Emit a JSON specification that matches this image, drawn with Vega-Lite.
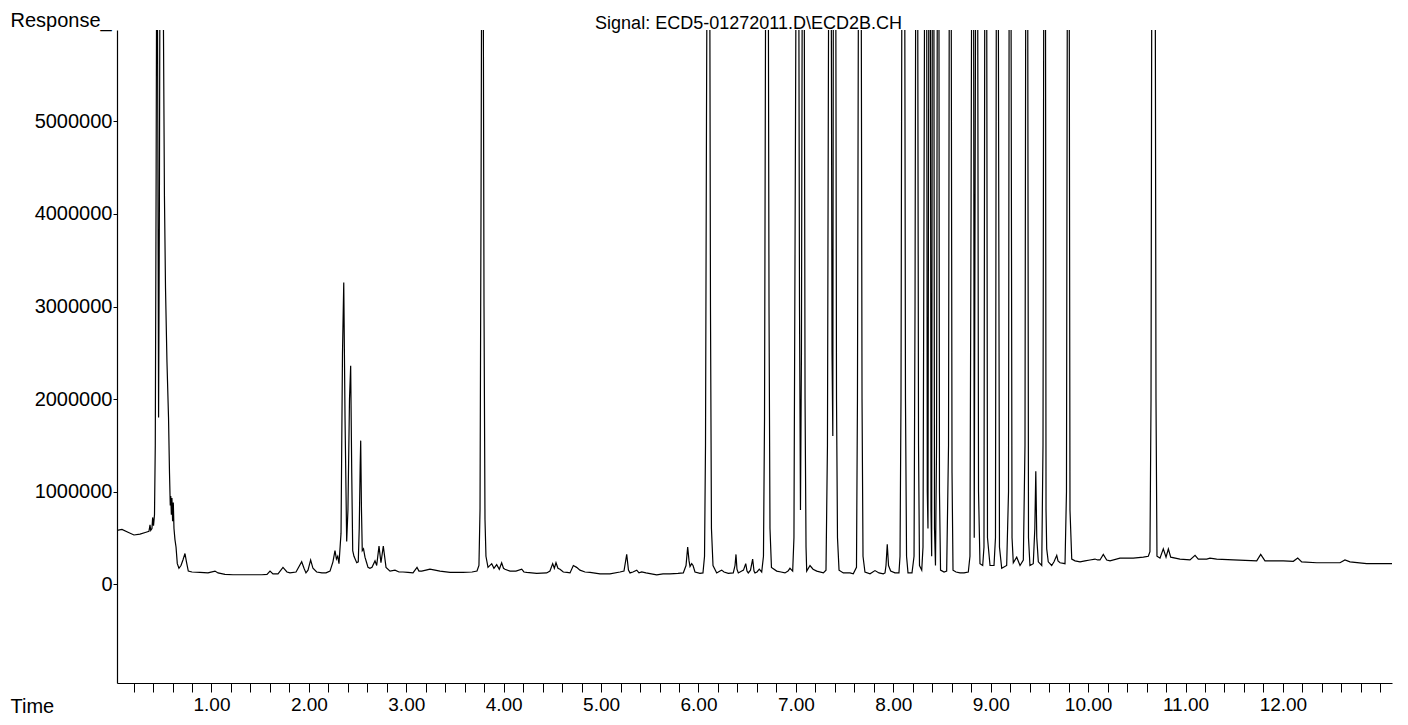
{
  "$schema": "https://vega.github.io/schema/vega-lite/v6.json",
  "width": 1275,
  "height": 653,
  "autosize": {"type": "none"},
  "padding": {"left": 117, "top": 30, "right": 16, "bottom": 42},
  "background": "white",
  "title": {
    "text": "Signal: ECD5-01272011.D\\ECD2B.CH",
    "anchor": "middle",
    "frame": "group",
    "baseline": "alphabetic",
    "offset": 0,
    "dx": -6,
    "dy": 37,
    "fontSize": 18,
    "fontWeight": "normal",
    "font": "Liberation Sans",
    "color": "black"
  },
  "config": {
    "font": "Liberation Sans",
    "view": {"stroke": null},
    "axis": {"grid": false, "domainColor": "black", "tickColor": "black", "labelColor": "black", "titleColor": "black", "labelFont": "Liberation Sans", "titleFont": "Liberation Sans", "titleFontWeight": "normal"}
  },
  "data": {
    "values": [
      {"t": 0.030, "r": 580000}, {"t": 0.081, "r": 590000}, {"t": 0.143, "r": 560000}, {"t": 0.204, "r": 530000},
      {"t": 0.266, "r": 540000}, {"t": 0.328, "r": 560000}, {"t": 0.358, "r": 570000}, {"t": 0.369, "r": 640000},
      {"t": 0.376, "r": 580000}, {"t": 0.389, "r": 600000}, {"t": 0.396, "r": 720000}, {"t": 0.405, "r": 630000},
      {"t": 0.415, "r": 750000}, {"t": 0.423, "r": 1500000}, {"t": 0.432, "r": 4500000}, {"t": 0.440, "r": 8000000},
      {"t": 0.449, "r": 5000000}, {"t": 0.457, "r": 1800000}, {"t": 0.465, "r": 4000000}, {"t": 0.474, "r": 8000000},
      {"t": 0.497, "r": 8000000}, {"t": 0.507, "r": 6000000}, {"t": 0.517, "r": 4200000}, {"t": 0.528, "r": 3200000},
      {"t": 0.543, "r": 2400000}, {"t": 0.559, "r": 1800000}, {"t": 0.569, "r": 1200000}, {"t": 0.577, "r": 850000},
      {"t": 0.582, "r": 950000}, {"t": 0.588, "r": 750000}, {"t": 0.594, "r": 930000}, {"t": 0.601, "r": 680000},
      {"t": 0.608, "r": 880000}, {"t": 0.615, "r": 600000}, {"t": 0.625, "r": 480000}, {"t": 0.636, "r": 400000},
      {"t": 0.649, "r": 220000}, {"t": 0.666, "r": 170000}, {"t": 0.687, "r": 200000}, {"t": 0.707, "r": 260000},
      {"t": 0.728, "r": 330000}, {"t": 0.743, "r": 240000}, {"t": 0.762, "r": 140000}, {"t": 0.800, "r": 130000},
      {"t": 0.882, "r": 125000}, {"t": 0.964, "r": 120000}, {"t": 1.036, "r": 140000}, {"t": 1.067, "r": 120000},
      {"t": 1.139, "r": 105000}, {"t": 1.221, "r": 100000}, {"t": 1.344, "r": 100000}, {"t": 1.447, "r": 100000},
      {"t": 1.518, "r": 100000}, {"t": 1.570, "r": 105000}, {"t": 1.601, "r": 140000}, {"t": 1.631, "r": 110000},
      {"t": 1.683, "r": 110000}, {"t": 1.734, "r": 180000}, {"t": 1.775, "r": 130000}, {"t": 1.806, "r": 120000},
      {"t": 1.868, "r": 130000}, {"t": 1.926, "r": 240000}, {"t": 1.950, "r": 170000}, {"t": 1.970, "r": 120000},
      {"t": 1.991, "r": 150000}, {"t": 2.018, "r": 260000}, {"t": 2.042, "r": 170000}, {"t": 2.080, "r": 130000},
      {"t": 2.134, "r": 120000}, {"t": 2.176, "r": 120000}, {"t": 2.217, "r": 140000}, {"t": 2.247, "r": 240000},
      {"t": 2.268, "r": 360000}, {"t": 2.283, "r": 270000}, {"t": 2.296, "r": 300000}, {"t": 2.309, "r": 220000},
      {"t": 2.330, "r": 550000}, {"t": 2.345, "r": 2500000}, {"t": 2.358, "r": 3260000}, {"t": 2.371, "r": 1800000},
      {"t": 2.388, "r": 460000}, {"t": 2.401, "r": 800000}, {"t": 2.417, "r": 2000000}, {"t": 2.429, "r": 2360000},
      {"t": 2.440, "r": 1200000}, {"t": 2.450, "r": 360000}, {"t": 2.463, "r": 300000}, {"t": 2.491, "r": 230000},
      {"t": 2.507, "r": 240000}, {"t": 2.517, "r": 600000}, {"t": 2.527, "r": 1300000}, {"t": 2.532, "r": 1550000},
      {"t": 2.540, "r": 800000}, {"t": 2.548, "r": 360000}, {"t": 2.561, "r": 380000}, {"t": 2.576, "r": 290000},
      {"t": 2.593, "r": 230000}, {"t": 2.607, "r": 180000}, {"t": 2.627, "r": 170000}, {"t": 2.648, "r": 180000},
      {"t": 2.679, "r": 250000}, {"t": 2.696, "r": 200000}, {"t": 2.720, "r": 410000}, {"t": 2.740, "r": 230000},
      {"t": 2.764, "r": 410000}, {"t": 2.792, "r": 180000}, {"t": 2.833, "r": 140000}, {"t": 2.884, "r": 150000},
      {"t": 2.925, "r": 130000}, {"t": 2.966, "r": 130000}, {"t": 3.017, "r": 125000}, {"t": 3.069, "r": 120000},
      {"t": 3.110, "r": 180000}, {"t": 3.130, "r": 140000}, {"t": 3.158, "r": 140000}, {"t": 3.202, "r": 150000},
      {"t": 3.243, "r": 160000}, {"t": 3.295, "r": 150000}, {"t": 3.346, "r": 140000}, {"t": 3.449, "r": 125000},
      {"t": 3.582, "r": 125000}, {"t": 3.675, "r": 130000}, {"t": 3.726, "r": 140000}, {"t": 3.746, "r": 200000},
      {"t": 3.757, "r": 800000}, {"t": 3.767, "r": 4000000}, {"t": 3.777, "r": 8000000}, {"t": 3.787, "r": 8000000},
      {"t": 3.798, "r": 3000000}, {"t": 3.808, "r": 700000}, {"t": 3.818, "r": 300000}, {"t": 3.839, "r": 180000},
      {"t": 3.877, "r": 220000}, {"t": 3.900, "r": 170000}, {"t": 3.928, "r": 210000}, {"t": 3.955, "r": 160000},
      {"t": 3.979, "r": 230000}, {"t": 3.998, "r": 170000}, {"t": 4.013, "r": 160000}, {"t": 4.065, "r": 140000},
      {"t": 4.126, "r": 140000}, {"t": 4.185, "r": 160000}, {"t": 4.208, "r": 130000}, {"t": 4.236, "r": 125000},
      {"t": 4.339, "r": 115000}, {"t": 4.441, "r": 120000}, {"t": 4.475, "r": 140000}, {"t": 4.503, "r": 220000},
      {"t": 4.520, "r": 170000}, {"t": 4.537, "r": 230000}, {"t": 4.557, "r": 170000}, {"t": 4.578, "r": 160000},
      {"t": 4.612, "r": 130000}, {"t": 4.650, "r": 125000}, {"t": 4.681, "r": 120000}, {"t": 4.715, "r": 200000},
      {"t": 4.749, "r": 180000}, {"t": 4.783, "r": 150000}, {"t": 4.835, "r": 130000}, {"t": 4.886, "r": 125000},
      {"t": 4.989, "r": 110000}, {"t": 5.091, "r": 110000}, {"t": 5.194, "r": 130000}, {"t": 5.235, "r": 140000},
      {"t": 5.263, "r": 320000}, {"t": 5.281, "r": 150000}, {"t": 5.297, "r": 120000}, {"t": 5.327, "r": 130000},
      {"t": 5.366, "r": 150000}, {"t": 5.389, "r": 120000}, {"t": 5.417, "r": 130000}, {"t": 5.461, "r": 120000},
      {"t": 5.571, "r": 100000}, {"t": 5.636, "r": 110000}, {"t": 5.707, "r": 110000}, {"t": 5.790, "r": 115000},
      {"t": 5.844, "r": 120000}, {"t": 5.872, "r": 200000}, {"t": 5.889, "r": 400000}, {"t": 5.903, "r": 250000},
      {"t": 5.913, "r": 190000}, {"t": 5.930, "r": 220000}, {"t": 5.944, "r": 200000}, {"t": 5.964, "r": 130000},
      {"t": 6.015, "r": 115000}, {"t": 6.046, "r": 120000}, {"t": 6.062, "r": 300000}, {"t": 6.072, "r": 1500000},
      {"t": 6.082, "r": 5000000}, {"t": 6.092, "r": 8000000}, {"t": 6.113, "r": 8000000}, {"t": 6.123, "r": 3000000},
      {"t": 6.133, "r": 600000}, {"t": 6.149, "r": 200000}, {"t": 6.187, "r": 120000}, {"t": 6.221, "r": 140000},
      {"t": 6.238, "r": 150000}, {"t": 6.262, "r": 130000}, {"t": 6.306, "r": 115000}, {"t": 6.357, "r": 120000},
      {"t": 6.375, "r": 200000}, {"t": 6.385, "r": 320000}, {"t": 6.395, "r": 160000}, {"t": 6.409, "r": 120000},
      {"t": 6.444, "r": 140000}, {"t": 6.462, "r": 150000}, {"t": 6.485, "r": 220000}, {"t": 6.498, "r": 140000},
      {"t": 6.511, "r": 120000}, {"t": 6.534, "r": 150000}, {"t": 6.556, "r": 270000}, {"t": 6.570, "r": 140000},
      {"t": 6.580, "r": 120000}, {"t": 6.601, "r": 130000}, {"t": 6.624, "r": 160000}, {"t": 6.649, "r": 130000},
      {"t": 6.667, "r": 300000}, {"t": 6.678, "r": 1800000}, {"t": 6.688, "r": 6000000}, {"t": 6.698, "r": 8000000},
      {"t": 6.714, "r": 8000000}, {"t": 6.724, "r": 3000000}, {"t": 6.734, "r": 600000}, {"t": 6.749, "r": 180000},
      {"t": 6.803, "r": 140000}, {"t": 6.847, "r": 130000}, {"t": 6.888, "r": 120000}, {"t": 6.919, "r": 140000},
      {"t": 6.939, "r": 170000}, {"t": 6.967, "r": 140000}, {"t": 6.980, "r": 500000}, {"t": 6.996, "r": 5000000},
      {"t": 7.006, "r": 8000000}, {"t": 7.027, "r": 8000000}, {"t": 7.037, "r": 3000000}, {"t": 7.047, "r": 800000},
      {"t": 7.057, "r": 2500000}, {"t": 7.068, "r": 8000000}, {"t": 7.083, "r": 8000000}, {"t": 7.094, "r": 2000000},
      {"t": 7.104, "r": 400000}, {"t": 7.111, "r": 140000}, {"t": 7.145, "r": 200000}, {"t": 7.176, "r": 160000},
      {"t": 7.214, "r": 140000}, {"t": 7.282, "r": 120000}, {"t": 7.309, "r": 150000}, {"t": 7.324, "r": 1500000},
      {"t": 7.335, "r": 6000000}, {"t": 7.345, "r": 8000000}, {"t": 7.360, "r": 8000000}, {"t": 7.371, "r": 2500000},
      {"t": 7.379, "r": 1600000}, {"t": 7.386, "r": 8000000}, {"t": 7.407, "r": 8000000}, {"t": 7.417, "r": 2000000},
      {"t": 7.427, "r": 500000}, {"t": 7.443, "r": 150000}, {"t": 7.487, "r": 120000}, {"t": 7.556, "r": 120000},
      {"t": 7.589, "r": 110000}, {"t": 7.622, "r": 180000}, {"t": 7.632, "r": 2000000}, {"t": 7.643, "r": 7000000},
      {"t": 7.653, "r": 8000000}, {"t": 7.668, "r": 8000000}, {"t": 7.679, "r": 2000000}, {"t": 7.689, "r": 300000},
      {"t": 7.709, "r": 130000}, {"t": 7.761, "r": 110000}, {"t": 7.812, "r": 145000}, {"t": 7.853, "r": 120000},
      {"t": 7.897, "r": 110000}, {"t": 7.915, "r": 120000}, {"t": 7.925, "r": 200000}, {"t": 7.938, "r": 430000},
      {"t": 7.951, "r": 200000}, {"t": 7.973, "r": 140000}, {"t": 8.017, "r": 120000}, {"t": 8.058, "r": 120000},
      {"t": 8.069, "r": 300000}, {"t": 8.079, "r": 2000000}, {"t": 8.089, "r": 7000000}, {"t": 8.100, "r": 8000000},
      {"t": 8.115, "r": 8000000}, {"t": 8.125, "r": 2000000}, {"t": 8.136, "r": 300000}, {"t": 8.151, "r": 120000},
      {"t": 8.192, "r": 120000}, {"t": 8.213, "r": 300000}, {"t": 8.223, "r": 3000000}, {"t": 8.233, "r": 8000000},
      {"t": 8.248, "r": 8000000}, {"t": 8.259, "r": 1500000}, {"t": 8.269, "r": 200000}, {"t": 8.292, "r": 150000},
      {"t": 8.305, "r": 400000}, {"t": 8.315, "r": 4000000}, {"t": 8.325, "r": 8000000}, {"t": 8.341, "r": 8000000},
      {"t": 8.349, "r": 1000000}, {"t": 8.356, "r": 600000}, {"t": 8.367, "r": 8000000}, {"t": 8.379, "r": 8000000},
      {"t": 8.387, "r": 800000}, {"t": 8.394, "r": 300000}, {"t": 8.402, "r": 8000000}, {"t": 8.415, "r": 8000000},
      {"t": 8.423, "r": 600000}, {"t": 8.433, "r": 200000}, {"t": 8.444, "r": 1500000}, {"t": 8.454, "r": 8000000},
      {"t": 8.467, "r": 8000000}, {"t": 8.474, "r": 1000000}, {"t": 8.485, "r": 150000}, {"t": 8.521, "r": 130000},
      {"t": 8.548, "r": 140000}, {"t": 8.567, "r": 1500000}, {"t": 8.577, "r": 8000000}, {"t": 8.592, "r": 8000000},
      {"t": 8.603, "r": 1200000}, {"t": 8.613, "r": 150000}, {"t": 8.644, "r": 130000}, {"t": 8.685, "r": 120000},
      {"t": 8.726, "r": 120000}, {"t": 8.770, "r": 130000}, {"t": 8.787, "r": 300000}, {"t": 8.798, "r": 4000000},
      {"t": 8.808, "r": 8000000}, {"t": 8.823, "r": 8000000}, {"t": 8.831, "r": 500000}, {"t": 8.839, "r": 4000000},
      {"t": 8.849, "r": 8000000}, {"t": 8.864, "r": 8000000}, {"t": 8.875, "r": 1000000}, {"t": 8.890, "r": 220000},
      {"t": 8.918, "r": 200000}, {"t": 8.931, "r": 400000}, {"t": 8.941, "r": 8000000}, {"t": 8.957, "r": 8000000},
      {"t": 8.967, "r": 500000}, {"t": 8.993, "r": 200000}, {"t": 9.034, "r": 200000}, {"t": 9.049, "r": 500000},
      {"t": 9.060, "r": 8000000}, {"t": 9.075, "r": 8000000}, {"t": 9.090, "r": 400000}, {"t": 9.113, "r": 170000},
      {"t": 9.164, "r": 200000}, {"t": 9.183, "r": 1000000}, {"t": 9.191, "r": 8000000}, {"t": 9.206, "r": 8000000},
      {"t": 9.219, "r": 500000}, {"t": 9.232, "r": 230000}, {"t": 9.267, "r": 290000}, {"t": 9.301, "r": 200000},
      {"t": 9.335, "r": 260000}, {"t": 9.352, "r": 1500000}, {"t": 9.362, "r": 8000000}, {"t": 9.378, "r": 8000000},
      {"t": 9.388, "r": 500000}, {"t": 9.403, "r": 200000}, {"t": 9.437, "r": 220000}, {"t": 9.453, "r": 600000},
      {"t": 9.463, "r": 1220000}, {"t": 9.473, "r": 500000}, {"t": 9.489, "r": 240000}, {"t": 9.524, "r": 200000},
      {"t": 9.537, "r": 1500000}, {"t": 9.547, "r": 8000000}, {"t": 9.561, "r": 8000000}, {"t": 9.568, "r": 800000},
      {"t": 9.575, "r": 380000}, {"t": 9.591, "r": 240000}, {"t": 9.626, "r": 200000}, {"t": 9.650, "r": 240000},
      {"t": 9.678, "r": 310000}, {"t": 9.691, "r": 250000}, {"t": 9.712, "r": 230000}, {"t": 9.763, "r": 220000},
      {"t": 9.778, "r": 1000000}, {"t": 9.789, "r": 8000000}, {"t": 9.804, "r": 8000000}, {"t": 9.814, "r": 800000},
      {"t": 9.832, "r": 270000}, {"t": 9.866, "r": 250000}, {"t": 9.917, "r": 240000}, {"t": 9.968, "r": 250000},
      {"t": 10.019, "r": 260000}, {"t": 10.071, "r": 270000}, {"t": 10.097, "r": 260000}, {"t": 10.122, "r": 260000},
      {"t": 10.156, "r": 320000}, {"t": 10.191, "r": 260000}, {"t": 10.225, "r": 250000}, {"t": 10.327, "r": 280000},
      {"t": 10.464, "r": 280000}, {"t": 10.567, "r": 290000}, {"t": 10.618, "r": 300000}, {"t": 10.635, "r": 350000},
      {"t": 10.646, "r": 2000000}, {"t": 10.656, "r": 8000000}, {"t": 10.687, "r": 8000000}, {"t": 10.697, "r": 2000000},
      {"t": 10.707, "r": 300000}, {"t": 10.738, "r": 280000}, {"t": 10.772, "r": 380000}, {"t": 10.800, "r": 290000},
      {"t": 10.824, "r": 380000}, {"t": 10.848, "r": 290000}, {"t": 10.943, "r": 270000}, {"t": 11.046, "r": 260000},
      {"t": 11.098, "r": 310000}, {"t": 11.131, "r": 270000}, {"t": 11.218, "r": 270000}, {"t": 11.251, "r": 280000},
      {"t": 11.320, "r": 270000}, {"t": 11.491, "r": 260000}, {"t": 11.731, "r": 250000}, {"t": 11.772, "r": 320000},
      {"t": 11.816, "r": 250000}, {"t": 12.004, "r": 250000}, {"t": 12.107, "r": 245000}, {"t": 12.152, "r": 280000},
      {"t": 12.193, "r": 240000}, {"t": 12.347, "r": 230000}, {"t": 12.586, "r": 230000}, {"t": 12.637, "r": 260000},
      {"t": 12.689, "r": 240000}, {"t": 12.860, "r": 220000}, {"t": 13.120, "r": 220000}
    ]
  },
  "mark": {"type": "line", "clip": true, "color": "black", "strokeWidth": 1.2},
  "encoding": {
    "x": {
      "field": "t",
      "type": "quantitative",
      "scale": {"domain": [0.03, 13.12], "nice": false, "zero": false},
      "axis": {
        "orient": "bottom",
        "title": "Time",
        "titleX": -107,
        "titleY": 29,
        "titleAlign": "left",
        "titleBaseline": "alphabetic",
        "titleFontSize": 20,
        "values": [0.2,0.4,0.6,0.8,1,1.2,1.4,1.6,1.8,2,2.2,2.4,2.6,2.8,3,3.2,3.4,3.6,3.8,4,4.2,4.4,4.6,4.8,5,5.2,5.4,5.6,5.8,6,6.2,6.4,6.6,6.8,7,7.2,7.4,7.6,7.8,8,8.2,8.4,8.6,8.8,9,9.2,9.4,9.6,9.8,10,10.2,10.4,10.6,10.8,11,11.2,11.4,11.6,11.8,12,12.2,12.4,12.6,12.8,13],
        "labelExpr": "abs(datum.value - round(datum.value)) < 0.01 && datum.value < 12.5 ? format(datum.value, '.2f') : ''",
        "labelOverlap": false,
        "labelFontSize": 19,
        "labelPadding": 3,
        "labelBaseline": "top",
        "tickSize": 9,
        "domainWidth": 1.2,
        "encode": {
          "ticks": {"update": {"y2": {"signal": "abs(datum.value - round(datum.value)) < 0.01 ? 9 : 5"}}}
        }
      }
    },
    "y": {
      "field": "r",
      "type": "quantitative",
      "scale": {"domain": [-1070000, 5989000], "nice": false, "zero": false},
      "axis": {
        "title": "Response_",
        "titleAngle": 0,
        "titleX": -107,
        "titleY": -4,
        "titleAlign": "left",
        "titleBaseline": "alphabetic",
        "titleFontSize": 20,
        "values": [0, 1000000, 2000000, 3000000, 4000000, 5000000],
        "format": "d",
        "labelFontSize": 20,
        "labelPadding": 1,
        "tickSize": 4,
        "domainWidth": 1.2
      }
    }
  }
}
